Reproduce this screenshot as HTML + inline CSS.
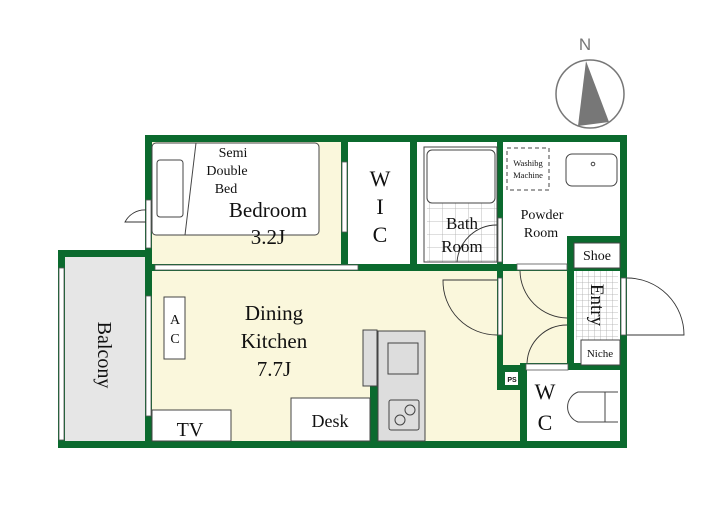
<!DOCTYPE html>
<html><head><meta charset="utf-8"><style>
html,body{margin:0;padding:0;background:#fff;width:720px;height:512px;overflow:hidden}
svg{display:block}
text{font-family:"Liberation Serif",serif;fill:#111}
</style></head><body>
<svg width="720" height="512" viewBox="0 0 720 512">
<defs>
<pattern id="tile" width="6" height="6" patternUnits="userSpaceOnUse"><rect width="6" height="6" fill="#fff"/><path d="M0 0H6M0 0V6" stroke="#aaa" stroke-width="0.8"/></pattern>
<pattern id="btile" width="13" height="13" patternUnits="userSpaceOnUse"><rect width="13" height="13" fill="#fff"/><path d="M0 0H13M0 0V13" stroke="#aaa" stroke-width="0.8"/></pattern>
</defs>
<!-- compass -->
<text x="585" y="50" font-family="Liberation Sans" font-size="17" fill="#777" text-anchor="middle" style="font-family:'Liberation Sans';fill:#777">N</text>
<circle cx="590" cy="94" r="34" fill="#fff" stroke="#777" stroke-width="1.5"/>
<polygon points="586,61 578,126 609,122" fill="#777"/>
<!-- fills -->
<rect x="152" y="142" width="190" height="123" fill="#faf7dc"/>
<rect x="152" y="271" width="368" height="170" fill="#faf7dc"/>
<rect x="503" y="271" width="64" height="94" fill="#faf7dc"/>
<rect x="65" y="257" width="80" height="184" fill="#e6e6e6"/>
<rect x="427" y="203" width="70" height="59" fill="url(#btile)"/>
<rect x="576" y="268" width="42" height="72" fill="url(#tile)"/>
<!-- walls -->
<g fill="#0b6a2e">
<rect x="145" y="135" width="482" height="7"/>
<rect x="145" y="135" width="7" height="313"/>
<rect x="58" y="441" width="569" height="7"/>
<rect x="620" y="135" width="7" height="313"/>
<rect x="58" y="250" width="94" height="7"/>
<rect x="58" y="250" width="7" height="198"/>
<rect x="145" y="264" width="482" height="7"/>
<rect x="341" y="135" width="7" height="136"/>
<rect x="410" y="135" width="7" height="136"/>
<rect x="497" y="135" width="6" height="255"/>
<rect x="567" y="236" width="7" height="134"/>
<rect x="567" y="236" width="60" height="7"/>
<rect x="497" y="365" width="30" height="25"/>
<rect x="520" y="363" width="107" height="7"/>
<rect x="520" y="363" width="7" height="85"/>
<rect x="370" y="386" width="8" height="55"/>
</g>
<!-- doors/windows (white gaps) -->
<g fill="#fff" stroke="#555" stroke-width="0.8">
<rect x="59" y="268" width="5" height="172"/>
<rect x="146" y="200" width="5" height="48"/>
<rect x="146" y="296" width="5" height="120"/>
<rect x="155" y="265" width="203" height="5"/>
<rect x="342" y="162" width="5" height="70"/>
<rect x="498" y="218" width="4" height="44"/>
<rect x="498" y="278" width="4" height="57"/>
<rect x="517" y="264" width="50" height="6"/>
<rect x="526" y="364" width="42" height="6"/>
<rect x="621" y="278" width="5" height="57"/>
<rect x="410" y="135" width="7" height="0"/>
</g>
<g fill="none" stroke="#333" stroke-width="0.9">
<path d="M146 210 A22 22 0 0 0 125 222 L146 222"/>
<path d="M497 280 H443 A54 54 0 0 0 497 335"/>
<path d="M520 271 A48 48 0 0 0 567 318"/>
<path d="M567 325 A40 40 0 0 0 527 363"/>
<path d="M627 278 A57 57 0 0 1 684 335 H627"/>
<path d="M497 225 A40 40 0 0 0 457 262"/>
</g>
<!-- bed -->
<rect x="152" y="143" width="167" height="92" rx="4" fill="#fff" stroke="#444"/>
<rect x="157" y="160" width="26" height="57" rx="3" fill="#fff" stroke="#444"/>
<line x1="196" y1="143" x2="185" y2="235" stroke="#444"/>
<!-- bath -->
<rect x="427" y="150" width="68" height="53" rx="5" fill="#fff" stroke="#444"/>
<rect x="424" y="147" width="73" height="115" fill="none" stroke="#444"/>
<!-- powder -->
<rect x="507" y="148" width="42" height="42" fill="none" stroke="#444" stroke-dasharray="4,3"/>
<rect x="566" y="154" width="51" height="32" rx="6" fill="#fff" stroke="#444"/>
<circle cx="593" cy="164" r="1.8" fill="none" stroke="#444"/>
<!-- entry -->
<rect x="574" y="243" width="46" height="25" fill="#fff" stroke="#444"/>
<rect x="581" y="340" width="39" height="25" fill="#fff" stroke="#444"/>
<!-- WC -->
<path d="M618 392 H578 A16 16 0 0 0 578 422 H618" fill="#fff" stroke="#444"/>
<line x1="605" y1="392" x2="605" y2="422" stroke="#444"/>
<rect x="505" y="372" width="13" height="13" fill="#fff"/>
<!-- DK furniture -->
<rect x="164" y="297" width="21" height="62" fill="#fff" stroke="#444"/>
<rect x="152" y="410" width="79" height="31" fill="#fff" stroke="#444"/>
<rect x="291" y="398" width="79" height="43" fill="#fff" stroke="#444"/>
<rect x="363" y="330" width="14" height="56" fill="#ddd" stroke="#444"/>
<rect x="378" y="331" width="47" height="110" fill="#ddd" stroke="#444"/>
<rect x="388" y="343" width="30" height="31" fill="none" stroke="#444"/>
<rect x="389" y="400" width="30" height="30" rx="2" fill="none" stroke="#444"/>
<circle cx="400" cy="420" r="5" fill="none" stroke="#444"/>
<circle cx="410" cy="410" r="5" fill="none" stroke="#444"/>
<!-- labels -->
<g text-anchor="middle">
<text x="233" y="157" font-size="14">Semi</text>
<text x="227" y="175" font-size="14">Double</text>
<text x="226" y="193" font-size="14">Bed</text>
<text x="268" y="217" font-size="21">Bedroom</text>
<text x="268" y="244" font-size="21">3.2J</text>
<text x="380" y="186" font-size="22">W</text>
<text x="380" y="214" font-size="22">I</text>
<text x="380" y="242" font-size="22">C</text>
<text x="462" y="229" font-size="17">Bath</text>
<text x="462" y="252" font-size="17">Room</text>
<text x="542" y="219" font-size="14">Powder</text>
<text x="541" y="237" font-size="14">Room</text>
<text x="528" y="166" font-size="8.5">Washibg</text>
<text x="528" y="178" font-size="8.5">Machine</text>
<text x="597" y="260" font-size="14">Shoe</text>
<text x="600" y="357" font-size="11">Niche</text>
<text x="512" y="382" font-size="7" font-family="Liberation Sans" style="font-family:'Liberation Sans';font-weight:bold">PS</text>
<text x="545" y="399" font-size="22">W</text>
<text x="545" y="430" font-size="22">C</text>
<text x="274" y="320" font-size="21">Dining</text>
<text x="274" y="348" font-size="21">Kitchen</text>
<text x="274" y="376" font-size="21">7.7J</text>
<text x="175" y="324" font-size="14">A</text>
<text x="175" y="343" font-size="14">C</text>
<text x="190" y="436" font-size="20">TV</text>
<text x="330" y="427" font-size="18">Desk</text>
<text transform="translate(597,305) rotate(90)" font-size="19" dy="6">Entry</text>
<text transform="translate(104,355) rotate(90)" font-size="20" dy="6">Balcony</text>
</g>
</svg>
</body></html>
